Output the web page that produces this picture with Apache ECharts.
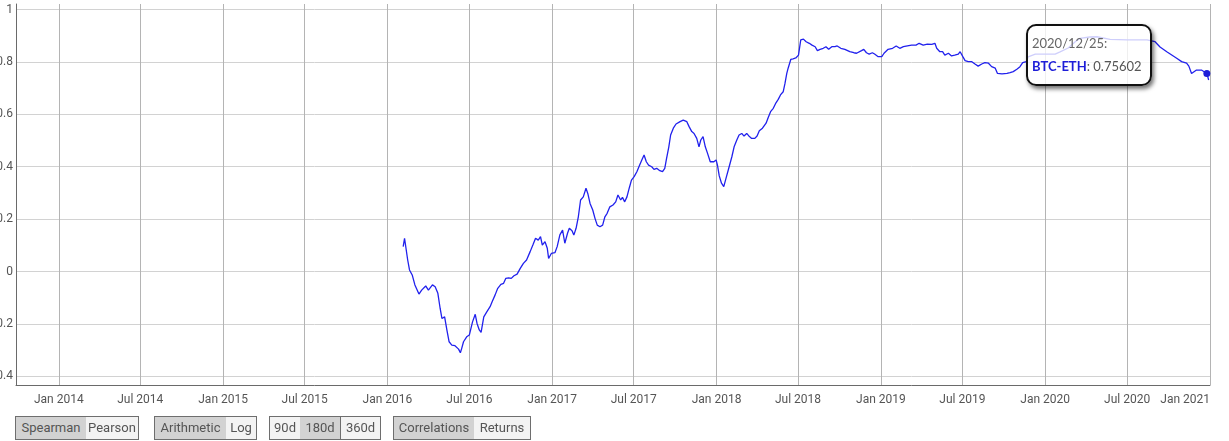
<!DOCTYPE html>
<html>
<head>
<meta charset="utf-8">
<script src="https://cdn.jsdelivr.net/npm/echarts@6/dist/echarts.min.js"></script>
<style>
html,body{margin:0;padding:0;background:#fff;}
#wrap{position:relative;width:1229px;height:441px;overflow:hidden;}
#chart{position:absolute;left:0;top:0;width:1229px;height:441px;}
.btn{position:absolute;top:416px;height:22px;line-height:22px;border:1px solid #6e6e6e;font-family:Roboto,sans-serif;font-size:13px;color:#555;text-align:center;box-sizing:content-box;background:#f3f3f3;}
.sel{background:#d2d2d2;}
</style>
</head>
<body>
<div id="wrap">
<div id="chart"></div>
<div class="btn sel" style="left:15px;width:70px;">Spearman</div>
<div class="btn" style="left:86px;width:52px;border-left:none;">Pearson</div>
<div class="btn sel" style="left:154px;width:71px;">Arithmetic</div>
<div class="btn" style="left:226px;width:30px;border-left:none;">Log</div>
<div class="btn" style="left:269px;width:30px;">90d</div>
<div class="btn sel" style="left:300px;width:40px;border-left:none;">180d</div>
<div class="btn" style="left:341px;width:39px;border-left:none;">360d</div>
<div class="btn sel" style="left:393px;width:80px;">Correlations</div>
<div class="btn" style="left:474px;width:56px;border-left:none;">Returns</div>
</div>
<script>
const seriesName = 'BTC-ETH';
const dates = [
'2016-02-05','2016-02-08','2016-02-15','2016-02-19','2016-02-25','2016-03-02','2016-03-11','2016-03-17','2016-03-26','2016-04-01',
'2016-04-10','2016-04-16','2016-04-22','2016-04-27','2016-05-01','2016-05-07','2016-05-12','2016-05-17','2016-05-23','2016-05-30',
'2016-06-07','2016-06-11','2016-06-14','2016-06-18','2016-06-25','2016-07-01','2016-07-08','2016-07-14','2016-07-18','2016-07-23',
'2016-07-27','2016-08-02','2016-08-09','2016-08-16','2016-08-21','2016-08-27','2016-09-02','2016-09-09','2016-09-15','2016-09-20',
'2016-09-26','2016-10-02','2016-10-08','2016-10-15','2016-10-22','2016-10-29','2016-11-05','2016-11-13','2016-11-19','2016-11-25',
'2016-12-01','2016-12-06','2016-12-10','2016-12-16','2016-12-21','2016-12-24','2016-12-30','2017-01-07','2017-01-12','2017-01-18',
'2017-01-24','2017-01-29','2017-02-04','2017-02-08','2017-02-14','2017-02-18','2017-02-23','2017-02-28','2017-03-05','2017-03-11',
'2017-03-17','2017-03-21','2017-03-26','2017-04-01','2017-04-06','2017-04-11','2017-04-17','2017-04-23','2017-04-28','2017-05-03',
'2017-05-09','2017-05-16','2017-05-22','2017-05-27','2017-06-02','2017-06-06','2017-06-11','2017-06-16','2017-06-21','2017-06-26',
'2017-07-02','2017-07-08','2017-07-14','2017-07-19','2017-07-24','2017-07-29','2017-08-03','2017-08-10','2017-08-15','2017-08-21',
'2017-08-28','2017-09-03','2017-09-08','2017-09-12','2017-09-17','2017-09-21','2017-09-27','2017-10-03','2017-10-12','2017-10-19',
'2017-10-27','2017-11-01','2017-11-07','2017-11-12','2017-11-18','2017-11-23','2017-11-27','2017-12-02','2017-12-07','2017-12-12',
'2017-12-18','2017-12-26','2017-12-31','2018-01-03','2018-01-07','2018-01-12','2018-01-17','2018-01-23','2018-01-29','2018-02-04',
'2018-02-09','2018-02-15','2018-02-20','2018-02-26','2018-03-03','2018-03-09','2018-03-15','2018-03-20','2018-03-27','2018-04-01',
'2018-04-06','2018-04-13','2018-04-21','2018-04-26','2018-05-01','2018-05-07','2018-05-13','2018-05-18','2018-05-23','2018-05-29',
'2018-06-02','2018-06-06','2018-06-09','2018-06-15','2018-06-20','2018-06-26','2018-07-02','2018-07-07','2018-07-13','2018-07-19',
'2018-07-26','2018-08-01','2018-08-08','2018-08-13','2018-08-19','2018-08-26','2018-09-01','2018-09-07','2018-09-14','2018-09-21',
'2018-09-26','2018-10-04','2018-10-13','2018-10-24','2018-11-02','2018-11-08','2018-11-19','2018-11-24','2018-11-30','2018-12-06',
'2018-12-13','2018-12-18','2018-12-26','2019-01-03','2019-01-08','2019-01-17','2019-01-27','2019-02-04','2019-02-12','2019-02-20',
'2019-03-01','2019-03-10','2019-03-20','2019-03-27','2019-04-05','2019-04-14','2019-04-24','2019-05-01','2019-05-05','2019-05-12',
'2019-05-18','2019-05-23','2019-05-31','2019-06-07','2019-06-14','2019-06-22','2019-06-26','2019-07-02','2019-07-07','2019-07-14',
'2019-07-22','2019-07-29','2019-08-05','2019-08-13','2019-08-20','2019-08-28','2019-09-04','2019-09-12','2019-09-17','2019-09-27',
'2019-10-08','2019-10-15','2019-10-22','2019-10-30','2019-11-06','2019-11-12','2019-11-20','2019-11-24','2019-12-10','2020-01-01',
'2020-01-23','2020-02-03','2020-02-21','2020-03-07','2020-03-18','2020-04-09','2020-04-25','2020-05-24','2020-07-01','2020-08-14',
'2020-09-01','2020-09-12','2020-09-27','2020-10-19','2020-10-30','2020-11-10','2020-11-15','2020-11-21','2020-12-02','2020-12-13',
'2020-12-25','2020-12-29'
];
const values = [
0.095,0.127,0.044,0.006,-0.013,-0.051,-0.086,-0.071,-0.055,-0.071,
-0.051,-0.058,-0.083,-0.140,-0.179,-0.173,-0.223,-0.268,-0.281,-0.283,
-0.296,-0.310,-0.293,-0.268,-0.249,-0.242,-0.192,-0.163,-0.198,-0.223,
-0.232,-0.173,-0.153,-0.134,-0.113,-0.090,-0.064,-0.049,-0.045,-0.026,
-0.024,-0.026,-0.016,-0.010,0.012,0.031,0.044,0.076,0.101,0.127,
0.120,0.133,0.101,0.114,0.089,0.050,0.069,0.072,0.095,0.140,
0.158,0.108,0.146,0.165,0.156,0.139,0.165,0.209,0.273,0.285,
0.318,0.298,0.260,0.235,0.203,0.177,0.171,0.177,0.209,0.222,
0.247,0.254,0.266,0.292,0.273,0.283,0.266,0.285,0.318,0.349,
0.362,0.381,0.406,0.426,0.445,0.419,0.406,0.400,0.390,0.394,
0.385,0.381,0.394,0.432,0.476,0.521,0.547,0.563,0.572,0.578,
0.572,0.553,0.534,0.527,0.508,0.476,0.502,0.515,0.476,0.451,
0.419,0.419,0.426,0.406,0.365,0.337,0.324,0.362,0.400,0.438,
0.476,0.502,0.521,0.527,0.517,0.527,0.515,0.508,0.508,0.517,
0.537,0.547,0.566,0.589,0.610,0.623,0.644,0.657,0.674,0.686,
0.718,0.756,0.776,0.810,0.812,0.815,0.826,0.884,0.887,0.877,
0.871,0.864,0.858,0.843,0.848,0.852,0.858,0.848,0.858,0.858,
0.861,0.852,0.848,0.839,0.835,0.833,0.843,0.848,0.835,0.830,
0.835,0.830,0.820,0.820,0.833,0.848,0.852,0.861,0.852,0.858,
0.861,0.864,0.864,0.871,0.864,0.868,0.867,0.871,0.852,0.839,
0.839,0.826,0.833,0.823,0.826,0.830,0.839,0.820,0.805,0.801,
0.801,0.792,0.784,0.792,0.797,0.795,0.782,0.776,0.756,0.754,
0.756,0.759,0.763,0.772,0.782,0.797,0.801,0.819,0.830,0.830,
0.830,0.838,0.853,0.876,0.890,0.895,0.896,0.886,0.884,0.884,
0.877,0.857,0.839,0.814,0.801,0.795,0.784,0.756,0.769,0.769,
0.75602,0.731
];
const xMin = '2013-09-28';
const xMax = '2021-01-01';
const yMin = -0.433;
const yMax = 1.021;
const tipDate = '2020-12-25';
const monthNames = ['Jan','Feb','Mar','Apr','May','Jun','Jul','Aug','Sep','Oct','Nov','Dec'];

const lineColor = '#1e1ed8';
const chart = echarts.init(document.getElementById('chart'), null, {renderer: 'canvas'});
const seriesData = dates.map((d, i) => [d, values[i]]);

function pad(n){return n < 10 ? '0' + n : '' + n;}

chart.setOption({
  animation: false,
  grid: {left: 16, right: 19, top: 4, bottom: 56, containLabel: false, outerBoundsMode: 'none'},
  tooltip: {
    trigger: 'axis',
    transitionDuration: 0,
    showDelay: 0,
    alwaysShowContent: true,
    axisPointer: {type: 'line', lineStyle: {opacity: 0}},
    backgroundColor: 'rgba(255,255,255,0.78)',
    borderColor: '#111',
    borderWidth: 2,
    borderRadius: 10,
    padding: [6, 8, 6, 4],
    extraCssText: 'box-shadow: 2px 3px 4px rgba(0,0,0,0.55);',
    textStyle: {fontFamily: 'Lato, sans-serif', fontSize: 13, color: '#555'},
    position: function () { return [1026, 24]; },
    formatter: function (params) {
      const p = params[0];
      const d = new Date(p.value[0]);
      const ds = d.getFullYear() + '/' + pad(d.getMonth() + 1) + '/' + pad(d.getDate()) + ':';
      return '<div style="line-height:23px;color:#666">' + ds + '</div>' +
        '<div style="line-height:23px"><b style="color:' + lineColor + '">' + p.seriesName + '</b>: ' + p.value[1] + '</div>';
    }
  },
  xAxis: {
    type: 'time',
    min: xMin,
    max: xMax,
    minInterval: 185 * 86400000,
    maxInterval: 185 * 86400000,
    axisLine: {show: true, onZero: false, lineStyle: {color: '#6a6a6a', width: 1}},
    axisTick: {show: false},
    splitLine: {show: true, lineStyle: {color: '#b4b4b4', width: 1}},
    axisLabel: {
      color: '#555', fontFamily: 'Roboto, sans-serif', fontSize: 12, margin: 9,
      showMaxLabel: true, alignMaxLabel: 'right', hideOverlap: false,
      formatter: function (v) {
        const d = new Date(v);
        if (d.getDate() !== 1 || (d.getMonth() !== 0 && d.getMonth() !== 6)) return '';
        return monthNames[d.getMonth()] + ' ' + d.getFullYear();
      }
    }
  },
  yAxis: {
    type: 'value',
    min: yMin,
    max: yMax,
    splitNumber: 7,
    axisLine: {show: true, onZero: false, lineStyle: {color: '#6a6a6a', width: 1}},
    axisTick: {show: false},
    splitLine: {show: true, showMaxLine: false, showMinLine: false, lineStyle: {color: '#d2d2d2', width: 1}},
    axisLabel: {
      color: '#555', fontFamily: 'Roboto, sans-serif', fontSize: 12, margin: 3,
      showMinLabel: false, showMaxLabel: false, padding: [8, 0, 0, 0]
    }
  },
  series: [{
    name: seriesName,
    type: 'line',
    data: seriesData,
    showSymbol: false,
    symbol: 'circle',
    symbolSize: 7,
    lineStyle: {color: lineColor, width: 1.3},
    itemStyle: {color: lineColor},
    emphasis: {scale: false, lineStyle: {width: 1.3}}
  }]
});

const tipIndex = dates.indexOf(tipDate);
chart.dispatchAction({type: 'showTip', seriesIndex: 0, dataIndex: tipIndex});
</script>
</body>
</html>
